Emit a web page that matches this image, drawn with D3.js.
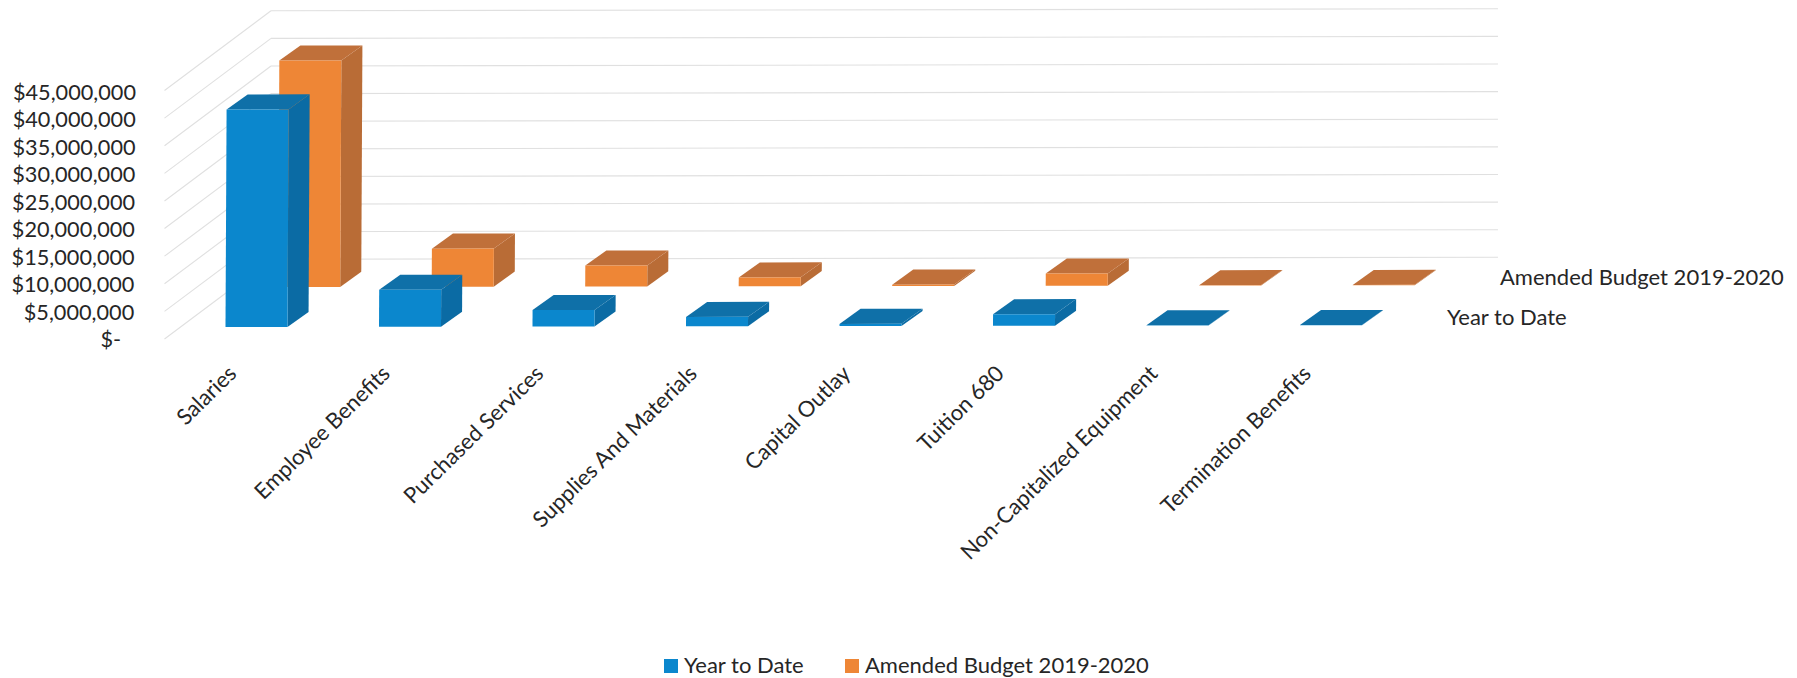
<!DOCTYPE html>
<html>
<head>
<meta charset="utf-8">
<script src="https://cdn.jsdelivr.net/npm/d3@7/dist/d3.min.js"></script>
<style>
html,body{margin:0;padding:0;background:#fff;overflow:hidden}
text{font-family:Lato,"Open Sans",sans-serif;fill:#262626}
</style>
</head>
<body>
<svg id="chart" width="1797" height="678"></svg>
<script>
const categories = ["Salaries","Employee Benefits","Purchased Services","Supplies And Materials","Capital Outlay","Tuition 680","Non-Capitalized Equipment","Termination Benefits"];
const yearToDate = [39400000,6700000,3000000,1700000,400000,2100000,60000,60000];
const amendedBudget = [41000000,6900000,3800000,1600000,250000,2200000,60000,60000];
const seriesNames = ["Year to Date","Amended Budget 2019-2020"];
const tickValues = [0,5000000,10000000,15000000,20000000,25000000,30000000,35000000,40000000,45000000];

const FS = 22;
const svg = d3.select("#chart");

// slight scan tilt of the source page
const px = (x,y)=> x-(y-327)*0.005;
const py = (x,y)=> y-(x-271)*0.0016;
const P = (x,y)=>[px(x,y),py(x,y)];

const xBand = d3.scaleBand().domain(categories).range([225.5,225.5+153.5*8]);
const barW = 62;
const valH = d3.scaleLinear().domain([0,45000000]).range([0,248.5]);
const depth = {dx:21,dy:15};
const seriesOff = [{dx:0,dy:0},{dx:52.5,dy:-40}];
const base = 327;
const line = d3.line();

// grid: floor diagonals and back wall
const grid = svg.append("g").attr("stroke","#e0e0e0").attr("stroke-width",1.1).attr("fill","none");
const wallX0=271, wallX1=1498, wallY0=259.3, sideX=164.5, sideY0=339;
tickValues.forEach(v=>{
  const h=valH(v);
  grid.append("path").attr("d",line([[sideX,sideY0-h],[wallX0,wallY0-h]]));
  grid.append("path").attr("d",line([[wallX0,wallY0-h],[wallX1,wallY0-h-2]]));
});

// bars
const palettes=[
 {front:"#0b87cd",top:"#0f70a8",side:"#0b6ba4"},
 {front:"#ee8636",top:"#c0703a",side:"#b96c36"}
];
function drawSeries(values,i){
  const g=svg.append("g");
  const o=seriesOff[i], c=palettes[i];
  values.forEach((v,k)=>{
    const x0=xBand(categories[k])+o.dx, x1=x0+barW;
    const yb=base+o.dy, yt=yb-valH(v);
    const d=depth;
    g.append("path").attr("fill",c.side).attr("d",line([P(x1,yb),P(x1+d.dx,yb-d.dy),P(x1+d.dx,yt-d.dy),P(x1,yt)])+"Z");
    g.append("path").attr("fill",c.top).attr("d",line([P(x0,yt),P(x0+d.dx,yt-d.dy),P(x1+d.dx,yt-d.dy),P(x1,yt)])+"Z");
    g.append("path").attr("fill",c.front).attr("d",line([P(x0,yb),P(x0,yt),P(x1,yt),P(x1,yb)])+"Z");
  });
}
drawSeries(amendedBudget,1);
drawSeries(yearToDate,0);

// value axis
const yAxisScale=d3.scaleLinear().domain([0,45000000]).range([339.3,91.9]);
const fmt=v=> v===0 ? "$-" : "$"+d3.format(",")(v);
const axisG=svg.append("g").call(d3.axisLeft(yAxisScale).tickValues(tickValues).tickFormat(fmt).tickSize(0).tickPadding(0));
axisG.select(".domain").remove();
axisG.selectAll("text")
  .style("font-family","Lato").style("font-size","21.7px").style("fill","#262626")
  .attr("text-anchor","end").attr("dy","0.35em")
  .attr("x",d=> (d===0?123:136)-(yAxisScale(d)-92)*0.008);

// category labels
const labelEndX=d3.scaleBand().domain(categories).range([234,234+153.5*8]);
svg.append("g").selectAll("text").data(categories).join("text")
  .attr("text-anchor","end")
  .attr("font-size",FS)
  .attr("dominant-baseline","middle")
  .attr("transform",d=>`translate(${labelEndX(d)},${371}) rotate(-44.5)`)
  .text(d=>d);

// series-axis labels
svg.append("text").attr("x",1500).attr("y",277).attr("dy","0.35em").attr("font-size",FS).text(seriesNames[1]);
svg.append("text").attr("x",1447).attr("y",317).attr("dy","0.35em").attr("font-size",FS).text(seriesNames[0]);

// legend
const legend=[{x:664,tx:684,c:"#0b87cd",name:seriesNames[0]},{x:845,tx:865,c:"#ee8636",name:seriesNames[1]}];
const lg=svg.append("g").selectAll("g").data(legend).join("g");
lg.append("rect").attr("x",d=>d.x).attr("y",659).attr("width",14).attr("height",14).attr("fill",d=>d.c);
lg.append("text").attr("x",d=>d.tx).attr("y",665.5).attr("dy","0.35em").attr("font-size",FS).text(d=>d.name);
</script>
</body>
</html>
